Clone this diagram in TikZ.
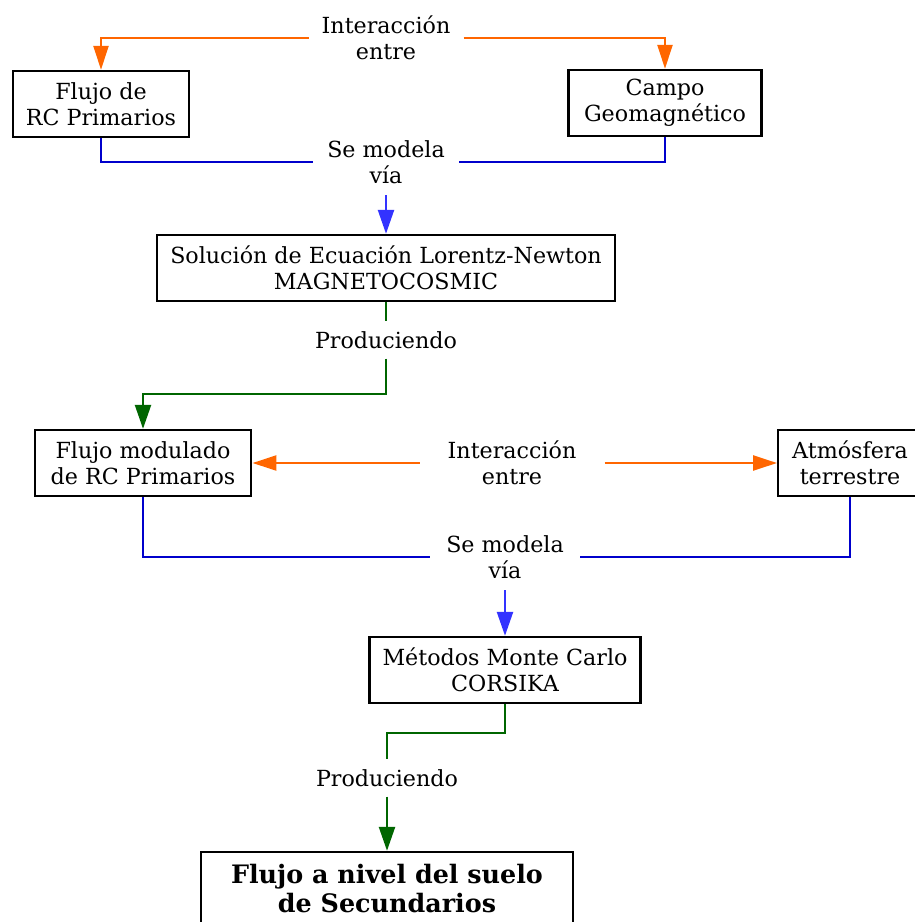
\documentclass[tikz,border=0pt]{standalone}
\usepackage{fontspec}
\setmainfont{DejaVu Serif}
\usetikzlibrary{arrows.meta,positioning}
\definecolor{flowOrange}{RGB}{255,102,0}
\definecolor{flowBlue}{RGB}{0,0,204}
\definecolor{flowBlueTip}{RGB}{51,51,255}
\definecolor{flowGreen}{RGB}{0,102,0}

\begin{document}
\begin{tikzpicture}[x=1pt,y=-1pt,
  box/.style={draw=black,line width=2.4pt,align=center,font=\fontsize{22.2}{26}\selectfont,
              inner xsep=13pt,inner ysep=4pt,minimum height=66pt},
  lbl/.style={align=center,font=\fontsize{22.2}{26}\selectfont,inner xsep=13pt,inner ysep=2pt,
              minimum height=66pt},
  oarr/.style={draw=flowOrange,line width=2.4pt,-{Triangle[length=24pt,width=15pt]}},
  bline/.style={draw=flowBlue,line width=2.4pt},
  barr/.style={draw=flowBlueTip,line width=2.4pt,-{Triangle[length=24pt,width=16pt]}},
  gline/.style={draw=flowGreen,line width=2.4pt},
  garr/.style={gline,-{Triangle[length=24pt,width=16pt]}}]
  \useasboundingbox (0,0) rectangle (914,922);
  % upper stage
  \node[lbl] (int1) at (386,38) {Interacción\\entre};
  \node[box] (flujo) at (101,104) {Flujo de\\RC Primarios};
  \node[box,inner xsep=15.5pt] (campo) at (665,103) {Campo\\Geomagnético};
  \node[lbl,inner xsep=14pt] (mod1) at (386,162) {Se modela\\vía};
  \node[box] (lorentz) at (386,268) {Solución de Ecuación Lorentz-Newton\\MAGNETOCOSMIC};
  \node[lbl,minimum height=37pt] (prod1) at (386,340) {Produciendo};
  \draw[oarr] (int1.west) -| (flujo.north);
  \draw[oarr] (int1.east) -| (campo.north);
  \draw[bline] (flujo.south) |- (mod1.west);
  \draw[bline] (campo.south) |- (mod1.east);
  \draw[barr] (mod1.south) -- (lorentz.north);
  \draw[gline] (lorentz.south) -- (prod1.north);
  % lower stage
  \node[box,inner xsep=16pt] (modulado) at (143,463) {Flujo modulado\\de RC Primarios};
  \node[lbl,inner xsep=28pt] (int2) at (512,463) {Interacción\\entre};
  \node[box,inner xsep=14pt] (atmos) at (850,463) {Atmósfera\\terrestre};
  \node[lbl,inner xsep=16pt] (mod2) at (505,557) {Se modela\\vía};
  \node[box] (corsika) at (505,670) {Métodos Monte Carlo\\CORSIKA};
  \node[lbl,minimum height=37pt] (prod2) at (387,778) {Produciendo};
  \node[box,font=\fontsize{25.4}{29}\selectfont\bfseries,inner xsep=30pt,minimum height=74pt]
    (suelo) at (387,889) {Flujo a nivel del suelo\\de Secundarios};
  \draw[garr] (prod1.south) -- ++(0,35) -| (modulado.north);
  \draw[oarr] (int2.west) -- (modulado.east);
  \draw[oarr] (int2.east) -- (atmos.west);
  \draw[bline] (modulado.south) |- (mod2.west);
  \draw[bline] (atmos.south) |- (mod2.east);
  \draw[barr] (mod2.south) -- (corsika.north);
  \draw[gline] (corsika.south) -- ++(0,29) -| (prod2.north);
  \draw[garr] (prod2.south) -- (suelo.north);
\end{tikzpicture}
\end{document}
